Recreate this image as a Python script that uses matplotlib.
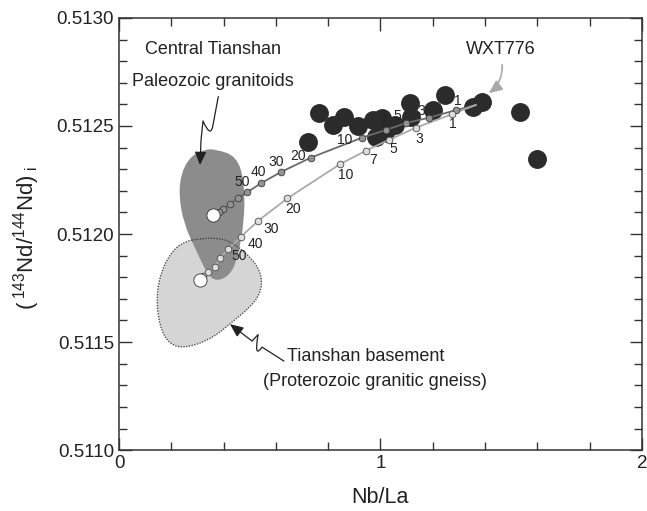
import numpy as np
import matplotlib
matplotlib.use("Agg")
import matplotlib.pyplot as plt
from matplotlib.path import Path
from matplotlib.patches import PathPatch, FancyArrowPatch
from matplotlib.ticker import MultipleLocator, FormatStrFormatter

plt.rcParams['font.family'] = ['Liberation Sans', 'DejaVu Sans']
plt.rcParams['mathtext.fontset'] = 'custom'
plt.rcParams['mathtext.rm'] = 'Liberation Sans'
plt.rcParams['mathtext.default'] = 'regular'

# samples (Nb/La, initial 143Nd/144Nd)
sample_nbla = [0.723, 0.765, 0.818, 0.860, 0.914, 0.971, 1.006, 0.983, 1.017,
               1.055, 1.113, 1.117, 1.200, 1.247, 1.354, 1.388, 1.533, 1.598]
sample_nd = [0.512426, 0.512560, 0.512505, 0.512542, 0.512500, 0.512528,
             0.512537, 0.512449, 0.512468, 0.512505, 0.512606, 0.512542,
             0.512574, 0.512644, 0.512588, 0.512611, 0.512565, 0.512347]

# mixing of WXT776 with Paleozoic granitoid (upper) and basement (lower)
mix_pct = [0, 1, 3, 5, 7, 10, 20, 30, 40, 50, 60, 70, 80, 90, 100]
mix_labels = ['', '1', '3', '5', '7', '10', '20', '30', '40', '50',
              '', '', '', '', '']
upper_nbla = [1.365, 1.291, 1.185, 1.096, 1.020, 0.930, 0.733, 0.618, 0.543,
              0.491, 0.454, 0.424, 0.399, 0.382, 0.361]
upper_nd = [0.512597, 0.512574, 0.512538, 0.512513, 0.512481, 0.512446,
            0.512353, 0.512286, 0.512235, 0.512194, 0.512165, 0.512139,
            0.512116, 0.512100, 0.512088]
lower_nbla = [1.365, 1.272, 1.136, 1.031, 0.945, 0.845, 0.644, 0.533, 0.467,
              0.418, 0.386, 0.367, 0.341, 0.322, 0.310]
lower_nd = [0.512597, 0.512554, 0.512492, 0.512435, 0.512386, 0.512323,
            0.512165, 0.512062, 0.511988, 0.511931, 0.511888, 0.511846,
            0.511825, 0.511806, 0.511787]

# label offsets in pixels for the numbered mixing steps
upper_off = [(0, 0), (1, 9), (-8, 7), (-8, 7), (-3, 9), (-17, -2), (-13, 2),
             (-4, 10), (-3, 11), (-5, 10)]
lower_off = [(0, 0), (1, -10), (3, -11), (5, -9), (7, -9), (6, -11), (6, -11),
             (13, -8), (14, -7), (11, -7)]

# fields
granitoid_x = [0.3700, 0.4500, 0.4800, 0.4790, 0.4530, 0.4265, 0.3736, 0.3390,
               0.2940, 0.2470, 0.2280, 0.2400, 0.2760, 0.3300]
granitoid_y = [0.512392, 0.512360, 0.512240, 0.512050, 0.511890, 0.511812,
               0.511780, 0.511812, 0.511926, 0.512050, 0.512188, 0.512290,
               0.512362, 0.512392]
basement_x = [0.2971, 0.3736, 0.4371, 0.5150, 0.5480, 0.5410, 0.5010, 0.4371,
              0.3606, 0.2589, 0.1930, 0.1550, 0.1420, 0.1620, 0.2077, 0.2589]
basement_y = [0.511976, 0.511984, 0.511960, 0.511880, 0.511802, 0.511725,
              0.511660, 0.511598, 0.511520, 0.511472, 0.511488, 0.511571,
              0.511710, 0.511833, 0.511930, 0.511968]


def smooth_closed(xs, ys):
    # quadratic spline through midpoints, closed
    pts = np.column_stack([xs, ys])
    n = len(pts)
    mids = (pts + np.roll(pts, -1, axis=0)) / 2
    verts = [mids[-1]]
    codes = [Path.MOVETO]
    for i in range(n):
        verts += [pts[i], mids[i]]
        codes += [Path.CURVE3, Path.CURVE3]
    verts.append(mids[-1])
    codes.append(Path.CLOSEPOLY)
    return Path(verts, codes)


fig = plt.figure(figsize=(6.47, 5.11), dpi=100)
ax = fig.add_axes([0.184, 0.119, 0.808, 0.846])

ax.add_patch(PathPatch(smooth_closed(basement_x, basement_y),
                       facecolor='#d5d5d5', edgecolor='none', zorder=1))
ax.add_patch(PathPatch(smooth_closed(granitoid_x, granitoid_y),
                       facecolor='#8c8c8c', edgecolor='none', zorder=2))
ax.add_patch(PathPatch(smooth_closed(basement_x, basement_y),
                       facecolor='none', edgecolor='#333333', lw=0.9,
                       linestyle=(0, (1, 1.2)), zorder=3))

ax.scatter(sample_nbla, sample_nd, s=185, color='#2b2b2b', zorder=4,
           linewidths=0)

ax.plot(upper_nbla, upper_nd, color='#6a6a6a', lw=1.3, zorder=5)
ax.plot(lower_nbla, lower_nd, color='#aaaaaa', lw=1.3, zorder=5)
ax.plot(upper_nbla[1:-1], upper_nd[1:-1], 'o', ms=4.8, mfc='#939393',
        mec='#3a3a3a', mew=0.6, zorder=6)
ax.plot(lower_nbla[1:-1], lower_nd[1:-1], 'o', ms=4.8, mfc='#dddddd',
        mec='#4a4a4a', mew=0.6, zorder=6)
ax.plot([upper_nbla[-1], lower_nbla[-1]], [upper_nd[-1], lower_nd[-1]], 'o',
        ms=9.5, mfc='white', mec='#333333', mew=0.6, zorder=6)

for i in range(1, 10):
    ax.annotate(mix_labels[i], (upper_nbla[i], upper_nd[i]),
                xytext=upper_off[i], textcoords='offset pixels',
                ha='center', va='center', fontsize=10, color='#222222',
                zorder=7)
    ax.annotate(mix_labels[i], (lower_nbla[i], lower_nd[i]),
                xytext=lower_off[i], textcoords='offset pixels',
                ha='center', va='center', fontsize=10, color='#222222',
                zorder=7)

txt = dict(ha='center', va='center', fontsize=13, color='#222222')
ax.text(0.359, 0.512855, 'Central Tianshan', **txt)
ax.text(0.359, 0.512707, 'Paleozoic granitoids', **txt)
ax.text(0.945, 0.511435, 'Tianshan basement', **txt)
ax.text(0.979, 0.511319, '(Proterozoic granitic gneiss)', **txt)
ax.text(1.46, 0.512852, 'WXT776', **txt)

# wavy pointers to the two fields
sq1 = Path([(0.3797, 0.512636), (0.3595, 0.512505), (0.3518, 0.512440),
            (0.3212, 0.512523), (0.3136, 0.512435), (0.3098, 0.512319)],
           [Path.MOVETO, Path.LINETO, Path.CURVE3, Path.CURVE3,
            Path.LINETO, Path.LINETO])
ax.add_patch(FancyArrowPatch(path=sq1, arrowstyle='-|>,head_length=8,head_width=3.5',
                             color='#222222', lw=0.9, zorder=8))
sq2 = Path([(0.631, 0.511412), (0.547, 0.511477), (0.515, 0.511420),
            (0.532, 0.511535), (0.509, 0.511505), (0.4245, 0.511583)],
           [Path.MOVETO, Path.LINETO, Path.CURVE3, Path.CURVE3,
            Path.LINETO, Path.LINETO])
ax.add_patch(FancyArrowPatch(path=sq2, arrowstyle='-|>,head_length=8,head_width=3.5',
                             color='#222222', lw=0.9, zorder=8))

ax.annotate('', xy=(1.406, 0.512644), xytext=(1.465, 0.512796),
            arrowprops=dict(arrowstyle='-|>,head_length=0.8,head_width=0.35',
                            color='#a8a8a8', lw=1.2,
                            connectionstyle='arc3,rad=-0.3'), zorder=8)

ax.set_xlim(0, 2)
ax.set_ylim(0.5110, 0.5130)
ax.xaxis.set_major_locator(MultipleLocator(1))
ax.xaxis.set_minor_locator(MultipleLocator(0.2))
ax.yaxis.set_major_locator(MultipleLocator(0.0005))
ax.yaxis.set_minor_locator(MultipleLocator(0.0001))
ax.xaxis.set_major_formatter(FormatStrFormatter('%d'))
ax.yaxis.set_major_formatter(FormatStrFormatter('%.4f'))
ax.tick_params(which='both', direction='in', top=True, right=True,
               color='#333333', labelcolor='#222222', labelsize=13.5)
ax.tick_params(which='major', length=9, width=1)
ax.tick_params(which='minor', length=6, width=1)
for s in ax.spines.values():
    s.set_color('#333333')
    s.set_linewidth(1.1)

ax.set_xlabel('Nb/La', fontsize=15.5, color='#222222')
ax.set_ylabel(r'$(\,^{143}$Nd/$^{144}$Nd$)_{\;i}$', fontsize=16, color='#222222')
ax.xaxis.set_label_coords(0.5, -0.085)
ax.yaxis.set_label_coords(-0.148, 0.49)

fig.savefig('out.png', dpi=100)
